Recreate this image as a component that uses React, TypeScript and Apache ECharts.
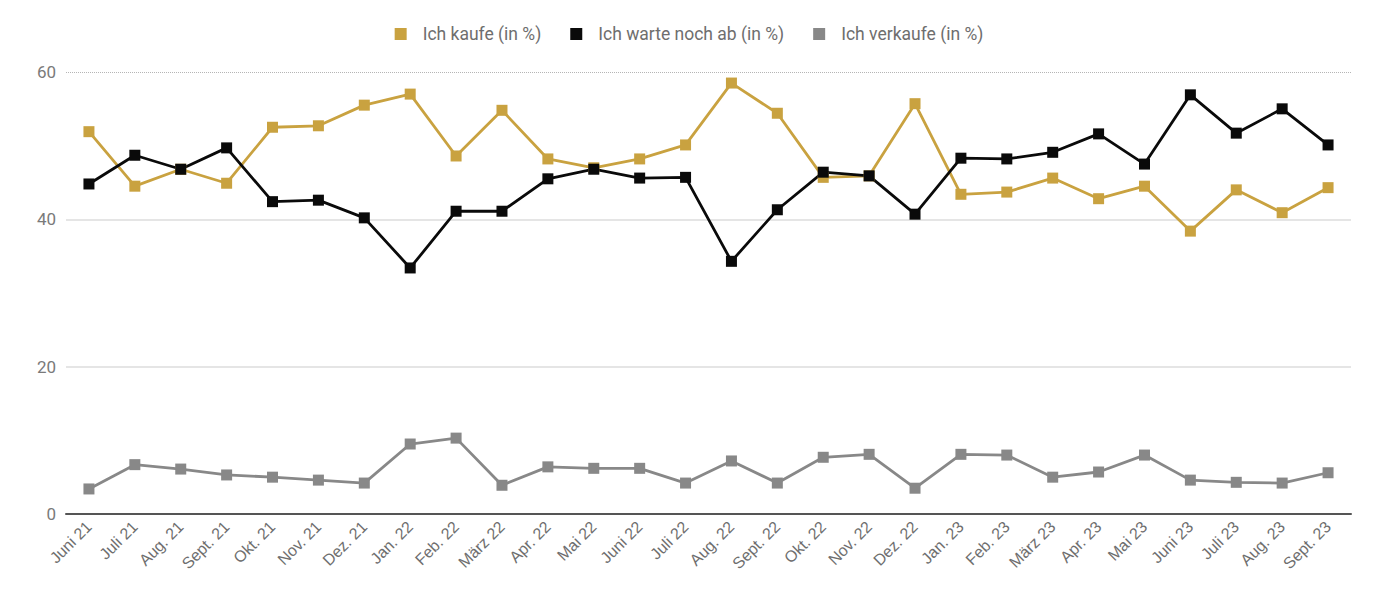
import React, { useEffect, useRef } from "react";
import * as echarts from "echarts";

const categories = [
  "Juni 21", "Juli 21", "Aug. 21", "Sept. 21", "Okt. 21", "Nov. 21", "Dez. 21",
  "Jan. 22", "Feb. 22", "März 22", "Apr. 22", "Mai 22", "Juni 22", "Juli 22",
  "Aug. 22", "Sept. 22", "Okt. 22", "Nov. 22", "Dez. 22", "Jan. 23", "Feb. 23",
  "März 23", "Apr. 23", "Mai 23", "Juni 23", "Juli 23", "Aug. 23", "Sept. 23",
];

const kaufe = [
  51.9, 44.5, 46.8, 44.9, 52.5, 52.7, 55.5, 57.0, 48.6, 54.8, 48.2, 47.0, 48.2, 50.1,
  58.5, 54.4, 45.7, 45.9, 55.7, 43.4, 43.7, 45.6, 42.8, 44.5, 38.4, 44.0, 40.9, 44.3,
];

const warte = [
  44.8, 48.7, 46.8, 49.7, 42.4, 42.6, 40.2, 33.4, 41.1, 41.1, 45.5, 46.8, 45.6, 45.7,
  34.3, 41.3, 46.4, 45.9, 40.7, 48.3, 48.2, 49.1, 51.6, 47.5, 56.9, 51.7, 55.0, 50.1,
];

const verkaufe = [
  3.4, 6.7, 6.1, 5.3, 5.0, 4.6, 4.2, 9.5, 10.3, 3.9, 6.4, 6.2, 6.2, 4.2,
  7.2, 4.2, 7.7, 8.1, 3.5, 8.1, 8.0, 5.0, 5.7, 8.0, 4.6, 4.3, 4.2, 5.6,
];

const seriesNames = ["Ich kaufe (in %)", "Ich warte noch ab (in %)", "Ich verkaufe (in %)"];
const colors = ["#C9A240", "#0a0a0a", "#888888"];

export default function App() {
  const ref = useRef<HTMLDivElement>(null);
  useEffect(() => {
    if (!ref.current) return;
    const chart = echarts.init(ref.current, undefined, { renderer: "svg" });
    const mk = (name: string, data: number[], color: string, withMark: boolean) => ({
      name,
      type: "line",
      data,
      symbol: "rect",
      symbolSize: 11,
      itemStyle: { color },
      lineStyle: { color, width: 2.8 },
      z: 3,
      ...(withMark
        ? {
            markLine: {
              silent: true,
              symbol: "none",
              label: { show: false },
              lineStyle: { type: "dotted", color: "#b5b5b5", width: 1 },
              data: [{ yAxis: 60 }],
              z: 1,
            },
          }
        : {}),
    });
    chart.setOption({
      animation: false,
      color: colors,
      legend: {
        top: 12,
        left: "center",
        icon: "rect",
        itemWidth: 12,
        itemHeight: 12,
        itemGap: 29,
        textStyle: {
          fontFamily: "Roboto",
          fontSize: 17.5,
          color: "#6e6e6e",
          padding: [0, 0, 0, 11],
        },
        data: seriesNames,
      },
      grid: { left: 58, right: 19, top: 64, bottom: 80, containLabel: false },
      xAxis: {
        type: "category",
        data: categories,
        boundaryGap: true,
        axisLine: { show: true, lineStyle: { color: "#555", width: 2 } },
        axisTick: { show: false },
        axisLabel: {
          rotate: 45,
          interval: 0,
          fontFamily: "Liberation Sans",
          fontSize: 16,
          color: "#6e6e6e",
          margin: 10,
        },
      },
      yAxis: {
        type: "value",
        min: 0,
        max: 60,
        interval: 20,
        axisLine: { show: false },
        axisTick: { show: false },
        axisLabel: {
          fontFamily: "Roboto",
          fontSize: 17,
          color: "#7a7a7a",
          margin: 10,
        },
        splitLine: {
          show: true,
          lineStyle: { color: ["#dcdcdc", "#dcdcdc", "#dcdcdc", "rgba(0,0,0,0)"], width: 1.5 },
        },
      },
      series: [
        mk(seriesNames[0], kaufe, colors[0], true),
        mk(seriesNames[1], warte, colors[1], false),
        mk(seriesNames[2], verkaufe, colors[2], false),
      ],
    });
    return () => chart.dispose();
  }, []);
  return <div ref={ref} style={{ width: 1362, height: 586 }} />;
}
